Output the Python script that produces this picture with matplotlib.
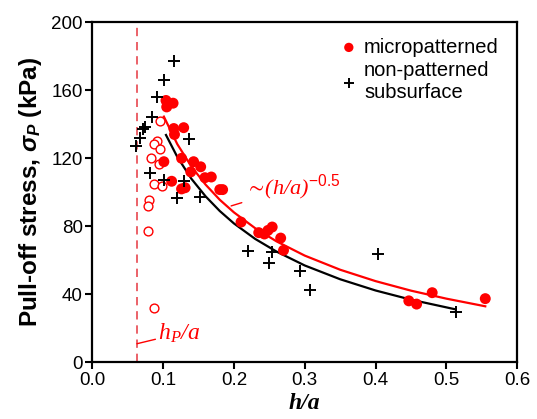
import matplotlib
matplotlib.use("Agg")
import matplotlib.pyplot as plt

plt.rcParams['font.family'] = ['Liberation Sans', 'DejaVu Sans']
plt.rcParams['mathtext.fontset'] = 'custom'
plt.rcParams['mathtext.it'] = 'Liberation Sans:italic:bold'
plt.rcParams['mathtext.rm'] = 'Liberation Serif:italic'
plt.rcParams['mathtext.sf'] = 'Liberation Sans'
plt.rcParams['mathtext.fallback'] = 'stix'

# non-patterned subsurface (black crosses)
cross_x = [0.115, 0.101, 0.091, 0.084, 0.072, 0.074, 0.067, 0.062, 0.082, 0.101, 0.130,
           0.119, 0.152, 0.137, 0.220, 0.254, 0.249, 0.294, 0.308, 0.404, 0.513]
cross_y = [177, 166, 156, 144.5, 137.4, 138.2, 131.8, 127, 111.6, 107, 106.6,
           96.6, 97.4, 131.4, 65.6, 65, 58.2, 53.6, 42.5, 63.5, 29.4]

# micropatterned (filled red)
dot_x = [0.104, 0.114, 0.105, 0.115, 0.129, 0.116, 0.101, 0.112, 0.126, 0.131, 0.126,
         0.143, 0.153, 0.139, 0.159, 0.168, 0.180, 0.184, 0.210, 0.235, 0.243, 0.248,
         0.254, 0.266, 0.270, 0.447, 0.458, 0.480, 0.555]
dot_y = [154, 152.4, 150.2, 137.5, 138, 134, 118, 106.5, 102, 102.7, 120,
         118, 115, 112, 108.6, 109, 101.6, 101.6, 82.5, 76.3, 75.5, 77.6,
         79.6, 73.1, 65.9, 36.2, 34.3, 41, 37.5]

# micropatterned below h_P/a limit (open red)
open_x = [0.096, 0.091, 0.087, 0.095, 0.083, 0.094, 0.087, 0.099, 0.080, 0.079, 0.079, 0.087]
open_y = [141.9, 130, 128.2, 125.5, 120, 116.5, 105, 103.5, 95.5, 92, 77, 32.2]

# fitted curves
fit_red_x = [0.101, 0.12, 0.14, 0.16, 0.18, 0.20, 0.23, 0.26, 0.30, 0.35, 0.40, 0.45, 0.50, 0.555]
fit_red_y = [144.5, 128.3, 115.1, 104.5, 95.6, 88.2, 78.9, 71.2, 62.8, 54.5, 47.8, 42.2, 37.5, 33.0]
fit_blk_x = [0.104, 0.12, 0.14, 0.16, 0.18, 0.20, 0.23, 0.26, 0.30, 0.35, 0.40, 0.45, 0.513]
fit_blk_y = [133.7, 120.8, 107.9, 97.6, 89.0, 81.7, 72.6, 65.2, 57.0, 48.9, 42.3, 36.9, 31.2]

hp_limit = 0.063

red = '#ff0000'

fig = plt.figure(figsize=(5.37, 4.19), dpi=100)
ax = fig.add_axes([0.172, 0.135, 0.791, 0.812])

ax.axvline(hp_limit, color='#e8474f', lw=1.2, ls=(0, (5, 3.5)), zorder=1)

ax.plot(fit_red_x, fit_red_y, color=red, lw=1.6, zorder=2)
ax.plot(fit_blk_x, fit_blk_y, color='black', lw=1.6, zorder=2)

ax.scatter(open_x, open_y, s=40, facecolors='white', edgecolors=red, linewidths=1.0, zorder=3)
h1 = ax.scatter(dot_x, dot_y, s=62, color=red, edgecolors='none', zorder=4,
                label='micropatterned')
h2 = ax.scatter(cross_x, cross_y, s=70, marker='+', color='black', linewidths=1.4, zorder=5,
                label='non-patterned\nsubsurface')

ax.set_xlim(0, 0.6)
ax.set_ylim(0, 200)
ax.set_xticks([0.0, 0.1, 0.2, 0.3, 0.4, 0.5, 0.6])
ax.set_yticks([0, 40, 80, 120, 160, 200])
ax.set_xticklabels(['0.0', '0.1', '0.2', '0.3', '0.4', '0.5', '0.6'])
ax.tick_params(direction='out', length=5, width=1.5, labelsize=13.5, pad=2)
for sp in ax.spines.values():
    sp.set_linewidth(1.6)

ax.set_xlabel('h/a', fontsize=17, fontweight='bold', fontstyle='italic',
              family='Liberation Serif', labelpad=3)
ax.set_ylabel(r'Pull-off stress, $\sigma_P$ (kPa)', fontsize=17.5,
              fontweight='bold', labelpad=5)

ax.legend(handles=[h1, h2], loc='upper right', frameon=False, fontsize=14.5,
          handletextpad=0.25, borderaxespad=0.2, handlelength=1.0,
          labelspacing=0.2, bbox_to_anchor=(0.985, 0.99), markerscale=0.85)

# annotations
ax.annotate(r'$\mathrm{\sim\!(h/a)}^{\mathsf{-0.5}}$', xy=(0.196, 92), xytext=(0.215, 103),
            color=red, fontsize=16, va='center', ha='left',
            arrowprops=dict(arrowstyle='-', color=red, lw=1.0, shrinkA=0, shrinkB=0))
ax.annotate(r'$\mathrm{h_P/a}$', xy=(hp_limit, 11), xytext=(0.093, 17),
            color=red, fontsize=17, va='center', ha='left',
            arrowprops=dict(arrowstyle='-', color=red, lw=1.0, shrinkA=0, shrinkB=0))

fig.savefig('out.png', dpi=100)
